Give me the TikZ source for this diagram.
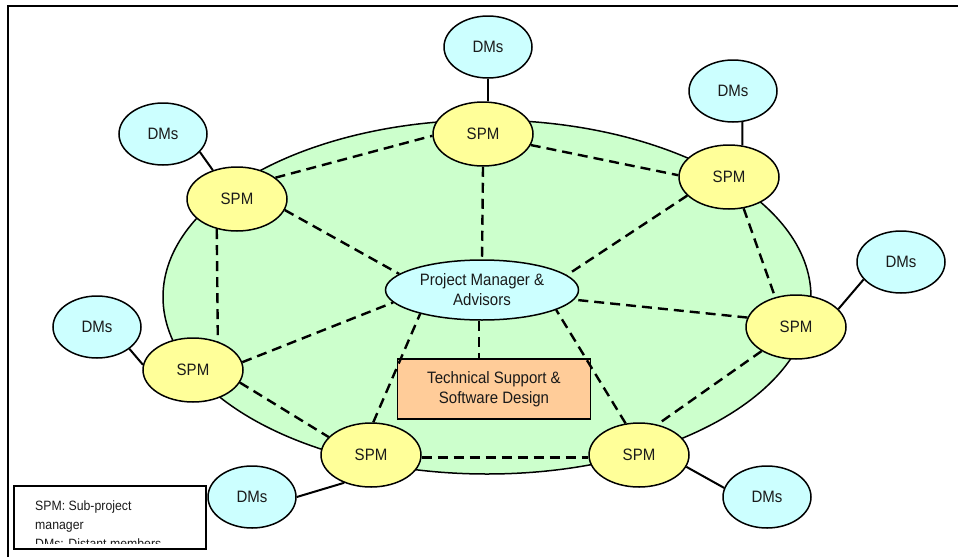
\documentclass[tikz,border=0pt]{standalone}
\usepackage{fontspec}
\setmainfont{Liberation Sans}[FakeStretch=0.91]
\usetikzlibrary{shapes.geometric}
\definecolor{ringgreen}{HTML}{CCFFCC}
\definecolor{spmyellow}{HTML}{FFFF99}
\definecolor{dmcyan}{HTML}{CCFFFF}
\definecolor{techorange}{HTML}{FFCC99}
\definecolor{txt}{HTML}{1A1A1A}
\begin{document}
\begin{tikzpicture}[x=1pt,y=-1pt,
  spm/.style={ellipse, draw, line width=1.5pt, fill=spmyellow, minimum width=100pt, minimum height=64pt, inner sep=0pt, text=txt, font=\fontsize{16.5}{18}\selectfont},
  dms/.style={ellipse, draw, line width=1.5pt, fill=dmcyan, minimum width=88pt, minimum height=62pt, inner sep=0pt, text=txt, font=\fontsize{16.5}{18}\selectfont},
  pmnode/.style={ellipse, draw, line width=1.5pt, fill=dmcyan, minimum width=193pt, minimum height=60pt, inner sep=0pt, align=center, text=txt, font=\fontsize{16.5}{20}\selectfont},
  techbox/.style={rectangle, draw, line width=1.5pt, fill=techorange, minimum width=193pt, minimum height=60pt, inner sep=0pt, align=center, text=txt, font=\fontsize{16.5}{20}\selectfont},
  legendtext/.style={anchor=base west, inner sep=0pt, text=txt, font=\fontsize{13.5}{16}\selectfont},
  solidlink/.style={line width=2pt},
  dashlink/.style={line width=2.4pt, dash pattern=on 10pt off 6pt}]
\useasboundingbox (0,0) rectangle (958,557);
\fill[white] (0,0) rectangle (958,557);
% frame
\draw[line width=2pt] (8,557) -- (8,6) -- (958,6);
% ring
\draw[line width=1.5pt, fill=ringgreen] (487,297) ellipse [x radius=324, y radius=177];
% nodes
\node[spm] (s1) at (483,134) {SPM};
\node[spm] (s2) at (729,177) {SPM};
\node[spm] (s3) at (796,327) {SPM};
\node[spm] (s4) at (639,455) {SPM};
\node[spm] (s5) at (371,455) {SPM};
\node[spm] (s6) at (193,370) {SPM};
\node[spm] (s7) at (237,199) {SPM};
\node[dms] (d1) at (488,47) {DMs};
\node[dms] (d2) at (733,91) {DMs};
\node[dms] (d3) at (901,262) {DMs};
\node[dms] (d4) at (767,497) {DMs};
\node[dms] (d5) at (252,497) {DMs};
\node[dms] (d6) at (97,327) {DMs};
\node[dms] (d7) at (163,134) {DMs};
\node[pmnode] (pm) at (482,290) {Project Manager \&\\Advisors};
\node[techbox] (tech) at (494,389) {Technical Support \&\\Software Design};
% dashed links
\draw[dashlink] (s7.29) -- (s1.182);
\draw[dashlink] (s1.-13.5) -- (s2.178);
\draw[dashlink] (s1.south) -- (pm.north);
\draw[dashlink] (s7.-13) -- (pm.169.5);
\draw[dashlink] (s7.-124) -- (s6.49);
\draw[dashlink] (s2.204) -- (pm.10);
\draw[dashlink] (s2.-65.7) -- (s3.125);
\draw[dashlink] (s3.169) -- (pm.-6);
\draw[dashlink] (s3.215) -- (s4.59);
\draw[dashlink] (s6.9) -- (pm.188);
\draw[dashlink] (s6.-15) -- (s5.157);
\draw[dashlink] (s5.86) -- (pm.201);
\draw[dashlink] (s5.-3.5) -- (s4.183);
\draw[dashlink] (s4.113) -- (pm.-15);
\draw[dashlink] ([xshift=-3pt]pm.south) -- ([xshift=-3pt]pm.south |- tech.north);
% solid links
\draw[solidlink] (d1.south) -- (d1.south |- s1.north);
\draw[solidlink] (d2.-73) -- (s2.67);
\draw[solidlink] (d7.-26.6) -- (s7.130);
\draw[solidlink] (d6.-34) -- (s6.174);
\draw[solidlink] (d3.205) -- (s3.23);
\draw[solidlink] (s4.-14) -- (d4.168);
\draw[solidlink] (d5.0) -- (s5.226);
% legend
\node[draw, line width=1.5pt, fill=white, minimum width=192pt, minimum height=63pt, inner sep=0pt, anchor=north west] (legend) at (13,485) {};
\begin{scope}
\clip (13,485) rectangle (205,543);
\node[legendtext] (l1) at (35,510) {SPM: Sub-project};
\node[legendtext] (l2) at (35,529) {manager};
\node[legendtext] (l3) at (35,548) {DMs: Distant members};
\end{scope}
\end{tikzpicture}
\end{document}
